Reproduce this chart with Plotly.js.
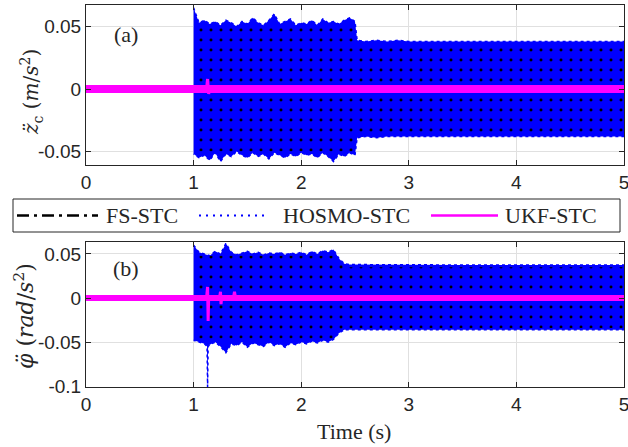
<!DOCTYPE html>
<html>
<head>
<meta charset="utf-8">
<script src="https://cdn.plot.ly/plotly-3.0.1.min.js"></script>
<style>html,body{margin:0;padding:0;background:#fff;}#chart{width:628px;height:447px;}</style>
</head>
<body>
<div id="chart"></div>
<script>
// ---------------- DATA ----------------
// Before t=1 all controllers are at 0.
const tZero = [0, 1];
const zZero = [0, 0];

// HOSMO-STC envelope, panel (a)
const tA_hosmoUp = [1.00,1.05,1.10,1.15,1.20,1.25,1.30,1.35,1.40,1.45,1.50,1.55,1.60,1.65,1.70,1.75,1.80,1.85,1.90,1.95,2.00,2.05,2.10,2.15,2.20,2.25,2.30,2.35,2.40,2.45,2.50,2.52,2.60,2.70,2.80,2.90,3.00,3.50,4.00,4.50,5.00];
const zA_hosmoUp = [0.065,0.053,0.055,0.052,0.054,0.051,0.055,0.053,0.050,0.054,0.052,0.057,0.053,0.051,0.055,0.060,0.052,0.054,0.056,0.051,0.053,0.052,0.055,0.051,0.056,0.053,0.054,0.052,0.055,0.057,0.054,0.039,0.038,0.039,0.038,0.039,0.038,0.038,0.038,0.038,0.038];
const tA_hosmoLo = [1.00,1.05,1.10,1.15,1.20,1.25,1.30,1.35,1.40,1.45,1.50,1.55,1.60,1.65,1.70,1.75,1.80,1.85,1.90,1.95,2.00,2.05,2.10,2.15,2.20,2.25,2.30,2.35,2.40,2.45,2.50,2.52,2.60,2.70,2.80,2.90,3.00,3.50,4.00,4.50,5.00];
const zA_hosmoLo = [-0.052,-0.055,-0.053,-0.057,-0.051,-0.058,-0.052,-0.054,-0.050,-0.053,-0.055,-0.051,-0.054,-0.052,-0.056,-0.051,-0.053,-0.055,-0.052,-0.054,-0.051,-0.053,-0.052,-0.055,-0.051,-0.054,-0.058,-0.052,-0.054,-0.051,-0.053,-0.039,-0.038,-0.039,-0.038,-0.038,-0.038,-0.038,-0.038,-0.038,-0.038];
// FS-STC envelope, panel (a)
const tA_fsUp = [1.00,2.50,2.52,5.00];
const zA_fsUp = [0.050,0.050,0.036,0.036];
const tA_fsLo = [1.00,2.50,2.52,5.00];
const zA_fsLo = [-0.050,-0.050,-0.036,-0.036];
// UKF-STC, panel (a): small ripple band and its spikes
const tA_ukfEnv = [0, 5];
const zA_ukfUp = [0.0032, 0.0032];
const zA_ukfLo = [-0.0032, -0.0032];
const tA_ukf = [0,1.00,1.12,1.13,1.14,1.15,5.00];
const zA_ukf = [0,0,0,0.008,-0.004,0,0];

// Panel (b): phi acceleration
const tB_hosmoUp = [1.00,1.05,1.10,1.15,1.20,1.25,1.30,1.35,1.40,1.45,1.50,1.55,1.60,1.65,1.70,1.75,1.80,1.85,1.90,1.95,2.00,2.05,2.10,2.15,2.20,2.25,2.30,2.35,2.40,2.45,3.00,3.50,4.00,4.50,5.00];
const zB_hosmoUp = [0.060,0.052,0.050,0.048,0.053,0.050,0.062,0.052,0.049,0.051,0.053,0.050,0.052,0.049,0.051,0.050,0.052,0.049,0.051,0.050,0.052,0.049,0.053,0.050,0.054,0.052,0.055,0.045,0.039,0.038,0.0375,0.0375,0.0375,0.0375,0.0375];
const tB_hosmoLo = [1.00,1.05,1.10,1.125,1.13,1.135,1.15,1.20,1.25,1.30,1.35,1.40,1.45,1.50,1.55,1.60,1.65,1.70,1.75,1.80,1.85,1.90,1.95,2.00,2.05,2.10,2.15,2.20,2.25,2.30,2.35,2.40,3.00,3.50,4.00,4.50,5.00];
const zB_hosmoLo = [-0.048,-0.050,-0.052,-0.055,-0.101,-0.055,-0.053,-0.050,-0.055,-0.062,-0.052,-0.054,-0.050,-0.056,-0.051,-0.053,-0.055,-0.050,-0.054,-0.052,-0.056,-0.051,-0.053,-0.050,-0.052,-0.049,-0.051,-0.048,-0.050,-0.047,-0.040,-0.036,-0.036,-0.036,-0.036,-0.036,-0.036];
const tB_fsUp = [1.00,2.30,2.40,5.00];
const zB_fsUp = [0.048,0.048,0.035,0.035];
const tB_fsLo = [1.00,2.30,2.40,5.00];
const zB_fsLo = [-0.046,-0.046,-0.034,-0.034];
const tB_ukfEnv = [0, 5];
const zB_ukfUp = [0.0034, 0.0034];
const zB_ukfLo = [-0.0034, -0.0034];
const tB_ukf = [0,1.12,1.13,1.135,1.14,1.24,1.25,1.255,1.26,1.37,1.38,1.385,1.39,5.00];
const zB_ukf = [0,0,0.0125,-0.026,0,0,0.007,-0.007,0,0,0.007,0,0,0];

const xTicks = [0,1,2,3,4,5];
const xTickText = ['0','1','2','3','4','5'];
const yTicksA = [-0.05,0,0.05];
const yTickTextA = ['-0.05','0','0.05'];
const yTicksB = [-0.1,-0.05,0,0.05];
const yTickTextB = ['-0.1','-0.05','0','0.05'];

const seriesNames = ['FS-STC','HOSMO-STC','UKF-STC'];
const yTitleA = '<i>z̈</i><sub>c</sub> (<i>m</i>/<i>s</i><sup>2</sup>)';
const yTitleB = '<i>φ̈</i> (<i>rad</i>/<i>s</i><sup>2</sup>)';
const xTitle = 'Time (s)';

// ---------------- BUILD ----------------
function band(tu, zu, tl, zl) {
  return {x: tu.concat(tl.slice().reverse()), y: zu.concat(zl.slice().reverse())};
}
const BLUE = '#0000ff', MAG = '#ff00ff';
const traces = [];
function panel(xa, ya, hUp, hLo, fUp, fLo, ukfEnv, ukfLine) {
  traces.push({x: tZero, y: zZero, xaxis: xa, yaxis: ya, mode: 'lines', showlegend: false,
    line: {color: '#000', width: 1.5, dash: 'dashdot'}, hoverinfo: 'skip'});
  const hb = band(hUp[0], hUp[1], hLo[0], hLo[1]);
  traces.push({x: hb.x, y: hb.y, xaxis: xa, yaxis: ya, mode: 'lines', fill: 'toself',
    fillcolor: BLUE, line: {color: BLUE, width: 1.5, dash: 'dot'}, showlegend: false, hoverinfo: 'skip'});
  const fb = band(fUp[0], fUp[1], fLo[0], fLo[1]);
  traces.push({x: fb.x, y: fb.y, xaxis: xa, yaxis: ya, mode: 'none', fill: 'toself',
    fillcolor: 'rgba(0,0,0,0)',
    fillpattern: {shape: '.', fgcolor: '#000', bgcolor: 'rgba(0,0,0,0)', size: 10, solidity: 0.07},
    showlegend: false, hoverinfo: 'skip'});
  const ub = band(ukfEnv[0], ukfEnv[1], ukfEnv[0], ukfEnv[2]);
  traces.push({x: ub.x, y: ub.y, xaxis: xa, yaxis: ya, mode: 'none', fill: 'toself',
    fillcolor: MAG, showlegend: false, hoverinfo: 'skip'});
  traces.push({x: ukfLine[0], y: ukfLine[1], xaxis: xa, yaxis: ya, mode: 'lines', showlegend: false,
    line: {color: MAG, width: 3}, hoverinfo: 'skip'});
}
panel('x', 'y', [tA_hosmoUp, zA_hosmoUp], [tA_hosmoLo, zA_hosmoLo], [tA_fsUp, zA_fsUp], [tA_fsLo, zA_fsLo],
  [tA_ukfEnv, zA_ukfUp, zA_ukfLo], [tA_ukf, zA_ukf]);
panel('x2', 'y2', [tB_hosmoUp, zB_hosmoUp], [tB_hosmoLo, zB_hosmoLo], [tB_fsUp, zB_fsUp], [tB_fsLo, zB_fsLo],
  [tB_ukfEnv, zB_ukfUp, zB_ukfLo], [tB_ukf, zB_ukf]);

const AX = '#262626';
const tickFont = {family: 'Liberation Sans, Arial, sans-serif', size: 19, color: AX};
const serif = 'Liberation Serif, Times New Roman, serif';
const titleSerif = 'DejaVu Serif, Liberation Serif, serif';
function xax(anchor) {
  return {anchor: anchor, range: [0, 5], tickvals: xTicks, ticktext: xTickText, ticks: 'inside', ticklen: 5,
    tickcolor: AX, showline: true, linecolor: AX, linewidth: 1, mirror: 'ticks', showgrid: true,
    gridcolor: '#e0e0e0', zeroline: false, tickfont: tickFont, ticklabeloverflow: 'allow'};
}
function yax(anchor, dom, range, tv, tt) {
  return {anchor: anchor, domain: dom, range: range, tickvals: tv, ticktext: tt, ticks: 'inside', ticklen: 5,
    tickcolor: AX, showline: true, linecolor: AX, linewidth: 1, mirror: 'ticks', showgrid: true,
    gridcolor: '#e0e0e0', zeroline: false, tickfont: tickFont, ticklabeloverflow: 'allow'};
}

// manual legend (MATLAB-like) and titles in paper coordinates
const W = 538, H = 382, L = 86, B = 387;
const px = v => (v - L) / W, py = v => (B - v) / H;
const shapes = [
  {type: 'rect', xref: 'paper', yref: 'paper', x0: px(13), x1: px(620), y0: py(232), y1: py(199),
    line: {color: AX, width: 1}, fillcolor: '#fff'},
  {type: 'line', xref: 'paper', yref: 'paper', x0: px(17), x1: px(98), y0: py(215.5), y1: py(215.5),
    line: {color: '#000', width: 2.5, dash: '12px,5px,3px,5px'}},
  {type: 'line', xref: 'paper', yref: 'paper', x0: px(199), x1: px(264), y0: py(215.5), y1: py(215.5),
    line: {color: BLUE, width: 2, dash: '2px,5px'}},
  {type: 'line', xref: 'paper', yref: 'paper', x0: px(431), x1: px(498), y0: py(215.5), y1: py(215.5),
    line: {color: MAG, width: 2.5}}
];
const legFont = {family: serif, size: 22, color: AX};
const annotations = [
  {xref: 'paper', yref: 'paper', x: px(104), y: py(215.5), xanchor: 'left', yanchor: 'middle', showarrow: false, text: seriesNames[0], font: legFont},
  {xref: 'paper', yref: 'paper', x: px(281), y: py(215.5), xanchor: 'left', yanchor: 'middle', showarrow: false, text: seriesNames[1], font: legFont},
  {xref: 'paper', yref: 'paper', x: px(503), y: py(215.5), xanchor: 'left', yanchor: 'middle', showarrow: false, text: seriesNames[2], font: legFont},
  {xref: 'x', yref: 'y', x: 0.37, y: 0.044, xanchor: 'center', yanchor: 'middle', showarrow: false, text: '(a)', font: legFont},
  {xref: 'x2', yref: 'y2', x: 0.37, y: 0.034, xanchor: 'center', yanchor: 'middle', showarrow: false, text: '(b)', font: legFont},
  {xref: 'paper', yref: 'paper', x: px(31), y: py(92), xanchor: 'center', yanchor: 'middle', showarrow: false,
    textangle: -90, text: yTitleA, font: {family: titleSerif, size: 20, color: AX}},
  {xref: 'paper', yref: 'paper', x: px(24), y: py(316), xanchor: 'center', yanchor: 'middle', showarrow: false,
    textangle: -90, text: yTitleB, font: {family: titleSerif, size: 22, color: AX}},
  {xref: 'paper', yref: 'paper', x: px(354), y: py(431), xanchor: 'center', yanchor: 'middle', showarrow: false,
    text: xTitle, font: legFont}
];

const layout = {
  width: 628, height: 447,
  margin: {l: 86, r: 4, t: 5, b: 60},
  paper_bgcolor: '#fff', plot_bgcolor: '#fff',
  showlegend: false,
  xaxis: xax('y'),
  yaxis: yax('x', [(B - 165) / H, 1], [-0.0608, 0.0672], yTicksA, yTickTextA),
  xaxis2: xax('y2'),
  yaxis2: yax('x2', [0, (B - 242) / H], [-0.101, 0.0636], yTicksB, yTickTextB),
  shapes: shapes,
  annotations: annotations
};
Plotly.newPlot('chart', traces, layout, {displayModeBar: false, staticPlot: true});
</script>
</body>
</html>
